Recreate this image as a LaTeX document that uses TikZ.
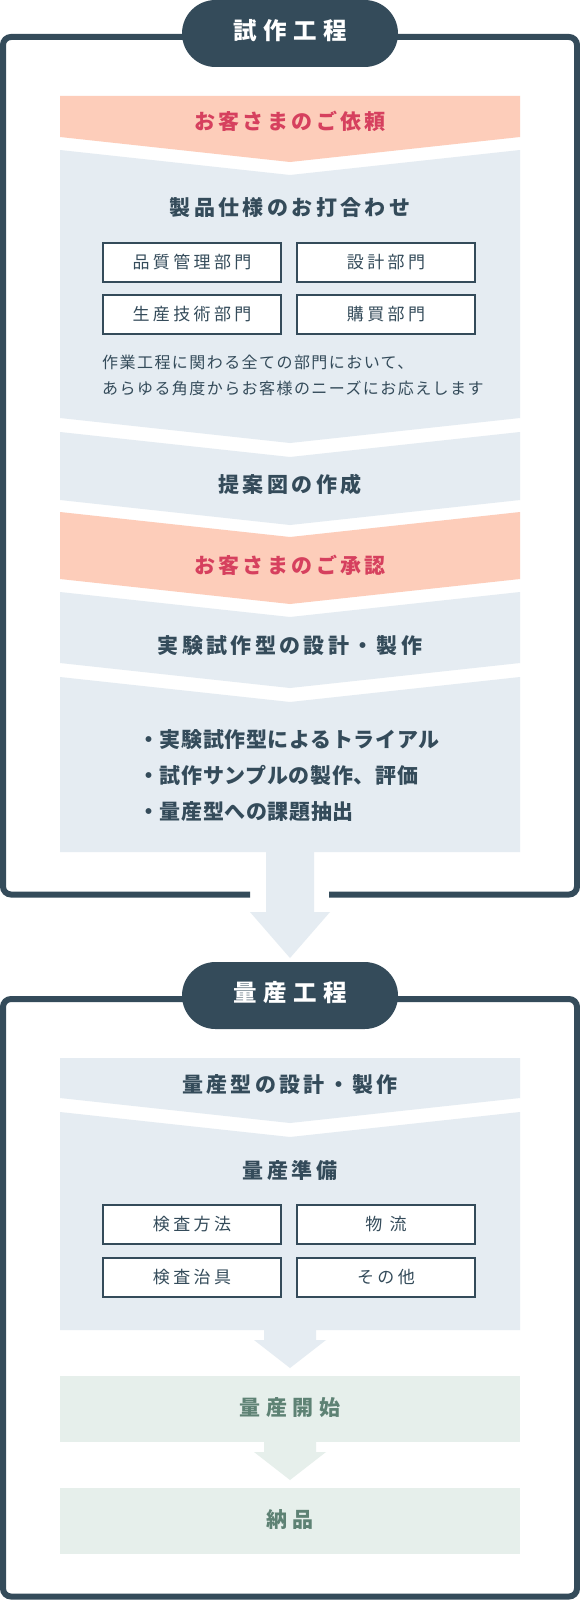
\documentclass[tikz,border=0pt]{standalone}
\usepackage{fontspec}
\newfontfamily\jpT[LetterSpace=16]{Noto Sans CJK JP}
\newfontfamily\jpP[LetterSpace=28]{Noto Sans CJK JP}
\newfontfamily\jpB[LetterSpace=20]{Noto Sans CJK JP}
\newfontfamily\jpD[LetterSpace=9]{Noto Sans CJK JP}
\newfontfamily\jpL[LetterSpace=3]{Noto Sans CJK JP}
\newfontfamily\jpG[LetterSpace=28]{Noto Sans CJK JP}
\definecolor{slate}{HTML}{344B5A}
\definecolor{salmon}{HTML}{FDCDBA}
\definecolor{crimson}{HTML}{D6405E}
\definecolor{pale}{HTML}{E5ECF2}
\definecolor{mint}{HTML}{E6EFEB}
\definecolor{sage}{HTML}{5E8274}
\begin{document}
\begin{tikzpicture}[x=1pt,y=-1pt,
  txt/.style={inner sep=0pt, text height=1.28em, text depth=0pt},
  steptitle/.style={txt, font={\jpT\bfseries\fontsize{21}{25}\selectfont}, text=slate},
  redtitle/.style={steptitle, text=crimson},
  greentitle/.style={txt, font={\jpG\bfseries\fontsize{21}{25}\selectfont}, text=sage},
  pill/.style={txt, fill=slate, rounded corners=33.5pt, minimum width=216pt, minimum height=67pt, text=white, font={\jpP\bfseries\fontsize{23.5}{28}\selectfont}},
  dept/.style={txt, draw=slate, line width=2pt, fill=white, minimum width=178pt, minimum height=39pt, text=slate, font={\jpB\fontsize{17}{20}\selectfont}},
  desc/.style={txt, text height=1.18em, anchor=west, text=slate, font={\jpD\fontsize{16}{20}\selectfont}},
  bullet/.style={txt, anchor=west, text=slate, font={\jpL\bfseries\fontsize{21}{25}\selectfont}},
  frame/.style={draw=slate, line width=6pt, rounded corners=8pt}
]
\path[use as bounding box] (0,0) rectangle (580,1600);
\fill[white] (0,0) rectangle (580,1600);

% ---------- 試作工程 frame ----------
\draw[frame] (250,894.5) -- (3,894.5) -- (3,37) -- (577,37) -- (577,894.5) -- (329,894.5);

\fill[salmon] (60,96) -- (520,96) -- (520,137) -- (290,162) -- (60,137) -- cycle;
\fill[pale] (60,150) -- (290,175) -- (520,150) -- (520,418) -- (290,443) -- (60,418) -- cycle;
\fill[pale] (60,432) -- (290,457) -- (520,432) -- (520,500) -- (290,525) -- (60,500) -- cycle;
\fill[salmon] (60,512) -- (290,537) -- (520,512) -- (520,579) -- (290,604) -- (60,579) -- cycle;
\fill[pale] (60,592) -- (290,617) -- (520,592) -- (520,663) -- (290,688) -- (60,663) -- cycle;
\fill[pale] (60,677) -- (290,702) -- (520,677) -- (520,852) -- (60,852) -- cycle;
\fill[pale] (266,852) -- (314,852) -- (314,912) -- (330,912) -- (290,958) -- (250,912) -- (266,912) -- cycle;

\node[pill] (p1) at (290,33.5) {試作工程};

\node[redtitle] (req) at (290,123) {お客さまのご依頼};
\node[steptitle] (spec) at (290,209.5) {製品仕様のお打合わせ};
\node[dept] (d1) at (192,262.5) {品質管理部門};
\node[dept] (d2) at (386,262.5) {設計部門};
\node[dept] (d3) at (192,314.5) {生産技術部門};
\node[dept] (d4) at (386,314.5) {購買部門};
\node[desc] (t1) at (102,362.5) {作業工程に関わる全ての部門において、};
\node[desc] (t2) at (102,389) {あらゆる角度からお客様のニーズにお応えします};
\node[steptitle] (plan) at (290,486) {提案図の作成};
\node[redtitle] (appr) at (290,567) {お客さまのご承認};
\node[steptitle] (exp) at (290,647) {実験試作型の設計・製作};
\node[bullet] (b1) at (138,741.5) {・実験試作型によるトライアル};
\node[bullet] (b2) at (138,777.5) {・試作サンプルの製作、評価};
\node[bullet] (b3) at (138,813.5) {・量産型への課題抽出};

% ---------- 量産工程 frame ----------
\draw[frame] (3,999) rectangle (577,1596.5);

\fill[pale] (60,1058) -- (520,1058) -- (520,1098) -- (290,1123) -- (60,1098) -- cycle;
\fill[pale] (60,1112) -- (290,1137) -- (520,1112) -- (520,1330) -- (60,1330) -- cycle;
\fill[pale] (264,1330) -- (316,1330) -- (316,1340) -- (326,1340) -- (290,1368) -- (254,1340) -- (264,1340) -- cycle;
\fill[mint] (60,1376) rectangle (520,1442);
\fill[mint] (264,1442) -- (316,1442) -- (316,1452) -- (326,1452) -- (290,1480) -- (254,1452) -- (264,1452) -- cycle;
\fill[mint] (60,1488) rectangle (520,1554);

\node[pill] (p2) at (290,995.5) {量産工程};

\node[steptitle] (mold) at (290,1086) {量産型の設計・製作};
\node[steptitle] (prep) at (290,1172) {量産準備};
\node[dept] (e1) at (192,1224.5) {検査方法};
\node[dept] (e2) at (386,1224.5) {物 流};
\node[dept] (e3) at (192,1277) {検査治具};
\node[dept] (e4) at (386,1277) {その他};
\node[greentitle] (start) at (290,1409) {量産開始};
\node[greentitle] (deliv) at (290,1521) {納品};
\end{tikzpicture}
\end{document}
